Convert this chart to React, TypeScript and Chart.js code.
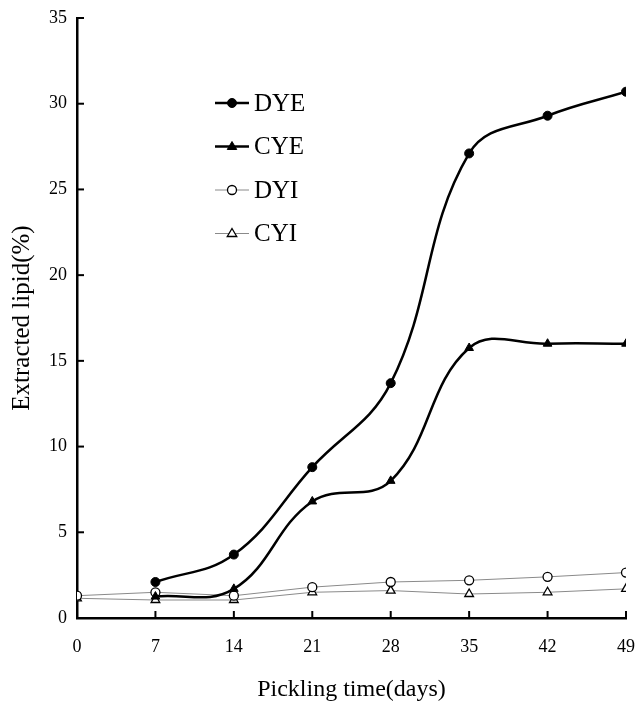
import React, { useEffect, useRef } from "react";
import { Chart, registerables } from "chart.js";

Chart.register(...registerables);

const days = [0, 7, 14, 21, 28, 35, 42, 49];
const dye = [null, 2.1, 3.7, 8.8, 13.7, 27.1, 29.3, 30.7];
const cye = [null, 1.25, 1.7, 6.8, 8.0, 15.75, 16.0, 16.0];
const dyi = [1.3, 1.5, 1.3, 1.8, 2.1, 2.2, 2.4, 2.65];
const cyi = [1.15, 1.05, 1.05, 1.5, 1.6, 1.4, 1.5, 1.7];
const seriesNames = ["DYE", "CYE", "DYI", "CYI"];
const yTicks = [0, 5, 10, 15, 20, 25, 30, 35];

const FONT = "'Liberation Serif', 'Times New Roman', serif";

const toPts = (arr: (number | null)[]) => days.map((d, i) => ({ x: d, y: arr[i] }));

const inwardTicks = {
  id: "inwardTicks",
  afterDraw(chart: any) {
    const { ctx, chartArea, scales } = chart;
    ctx.save();
    ctx.strokeStyle = "#000";
    ctx.lineWidth = 2;
    yTicks.forEach((v) => {
      const y = scales.y.getPixelForValue(v);
      ctx.beginPath();
      ctx.moveTo(chartArea.left, y);
      ctx.lineTo(chartArea.left + 7, y);
      ctx.stroke();
    });
    days.forEach((d) => {
      const x = scales.x.getPixelForValue(d);
      ctx.beginPath();
      ctx.moveTo(x, chartArea.bottom);
      ctx.lineTo(x, chartArea.bottom - 7);
      ctx.stroke();
    });
    ctx.restore();
  },
};

const customLegend = {
  id: "customLegend",
  afterDraw(chart: any) {
    const { ctx, chartArea } = chart;
    const x0 = chartArea.left + 138;
    const y0 = chartArea.top + 85;
    const gap = 43.5;
    ctx.save();
    chart.data.datasets.forEach((ds: any, i: number) => {
      const y = y0 + i * gap;
      ctx.strokeStyle = ds.borderColor;
      ctx.lineWidth = ds.borderWidth;
      ctx.beginPath();
      ctx.moveTo(x0, y);
      ctx.lineTo(x0 + 34, y);
      ctx.stroke();
      const cx = x0 + 17;
      const r = ds.pointRadius;
      ctx.fillStyle = ds.pointBackgroundColor;
      ctx.strokeStyle = ds.pointBorderColor;
      ctx.lineWidth = ds.pointBorderWidth;
      ctx.beginPath();
      if (ds.pointStyle === "triangle") {
        ctx.moveTo(cx, y - r);
        ctx.lineTo(cx + r * 0.95, y + r * 0.6);
        ctx.lineTo(cx - r * 0.95, y + r * 0.6);
        ctx.closePath();
      } else {
        ctx.arc(cx, y, r, 0, Math.PI * 2);
      }
      ctx.fill();
      ctx.stroke();
      ctx.fillStyle = "#000";
      ctx.font = `25px ${FONT}`;
      ctx.textBaseline = "middle";
      ctx.textAlign = "left";
      ctx.fillText(ds.label, x0 + 39, y + 1);
    });
    ctx.restore();
  },
};

export default function App() {
  const ref = useRef<HTMLCanvasElement>(null);
  useEffect(() => {
    document.body.style.margin = "0";
    const canvas = ref.current!;
    const thick = {
      borderColor: "#000",
      borderWidth: 2.5,
      tension: 0.4,
      pointBackgroundColor: "#000",
      pointBorderColor: "#000",
      pointBorderWidth: 1,
      fill: false,
    };
    const thin = {
      borderColor: "#8a8a8a",
      borderWidth: 1,
      tension: 0,
      pointBackgroundColor: "#fff",
      pointBorderColor: "#000",
      pointBorderWidth: 1.3,
      fill: false,
    };
    const chart = new Chart(canvas, {
      type: "line",
      data: {
        datasets: [
          { ...thick, label: seriesNames[0], data: toPts(dye), pointStyle: "circle", pointRadius: 4.5 },
          { ...thick, label: seriesNames[1], data: toPts(cye), pointStyle: "triangle", pointRadius: 5 },
          { ...thin, label: seriesNames[2], data: toPts(dyi), pointStyle: "circle", pointRadius: 4.5 },
          { ...thin, label: seriesNames[3], data: toPts(cyi), pointStyle: "triangle", pointRadius: 5 },
        ] as any,
      },
      options: {
        responsive: false,
        animation: false,
        layout: { padding: { top: 18, right: 13, left: 0, bottom: 0 } },
        plugins: { legend: { display: false }, tooltip: { enabled: false } },
        scales: {
          x: {
            type: "linear",
            min: 0,
            max: 49,
            afterBuildTicks: (s: any) => {
              s.ticks = days.map((d) => ({ value: d }));
            },
            afterFit: (s: any) => {
              s.height = 93;
              s.paddingLeft = 0;
              s.paddingRight = 0;
            },
            grid: { display: false, drawTicks: false },
            border: { display: true, color: "#000", width: 2.5 },
            ticks: { color: "#000", font: { family: FONT, size: 18 }, padding: 18, maxRotation: 0 },
            title: {
              display: true,
              text: "Pickling time(days)",
              color: "#000",
              font: { family: FONT, size: 24 },
              padding: { top: 0, bottom: 7 },
            },
          },
          y: {
            type: "linear",
            min: 0,
            max: 35,
            afterBuildTicks: (s: any) => {
              s.ticks = yTicks.map((v) => ({ value: v }));
            },
            afterFit: (s: any) => {
              s.width = 77;
              s.paddingTop = 0;
              s.paddingBottom = 0;
            },
            grid: { display: false, drawTicks: false },
            border: { display: true, color: "#000", width: 2.5 },
            ticks: { color: "#000", font: { family: FONT, size: 18 }, padding: 10 },
            title: {
              display: true,
              text: "Extracted lipid(%)",
              color: "#000",
              font: { family: FONT, size: 25 },
              padding: { top: 7, bottom: 0 },
            },
          },
        },
      },
      plugins: [inwardTicks, customLegend],
    } as any);
    return () => chart.destroy();
  }, []);
  return (
    <canvas
      ref={ref}
      width={639}
      height={711}
      style={{ display: "block", position: "absolute", left: 0, top: 0, background: "#fff" }}
    />
  );
}
